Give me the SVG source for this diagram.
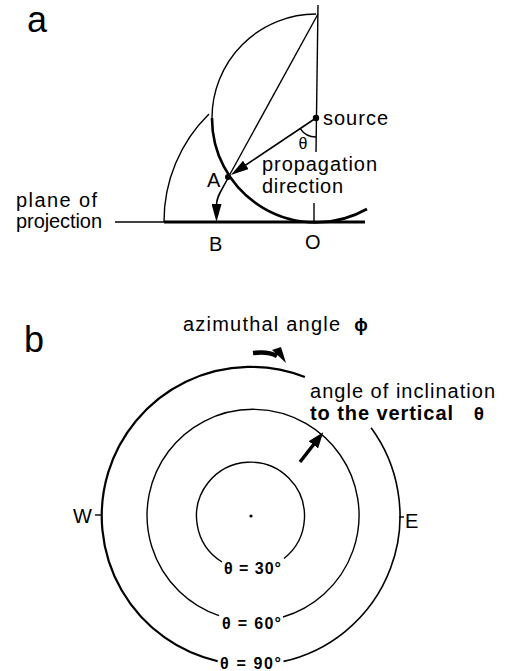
<svg xmlns="http://www.w3.org/2000/svg" width="510" height="671" viewBox="0 0 510 671">
<style>
text{font-family:"Liberation Sans",Arial,sans-serif;fill:#000}
.lbl{font-size:20px}
.big{font-size:36px}
.sm{font-size:16px;font-weight:bold}
.thin{fill:none;stroke:#000;stroke-width:1.4}
.thick{fill:none;stroke:#000;stroke-width:2.6}
</style>
<defs>
<marker id="ah" viewBox="0 0 18 10" refX="1" refY="5" markerWidth="18" markerHeight="10" markerUnits="userSpaceOnUse" orient="auto">
<path d="M0,0 L18,5 L0,10 Z" fill="#000"/>
</marker>
<marker id="ahb" viewBox="0 0 16 12" refX="1" refY="6" markerWidth="16" markerHeight="12" markerUnits="userSpaceOnUse" orient="auto">
<path d="M0,0 L16,6 L0,12 Z" fill="#000"/>
</marker>
</defs>

<!-- Part a -->
<g id="label-a"><text class="big" x="27" y="32">a</text></g>
<g id="construction-a">
  <line class="thin" x1="318" y1="5" x2="316" y2="152"/>
  <path class="thin" d="M316,14 A104,104 0 0 0 212,118"/>
  <path class="thick" d="M212,118 A104,104 0 0 0 367,209"/>
  <path class="thin" d="M164,222 A150,150 0 0 1 209,114"/>
  <line class="thin" x1="318" y1="14" x2="229" y2="176"/>
  <line class="thin" x1="115" y1="222" x2="164" y2="222"/>
  <line x1="164" y1="222" x2="365" y2="222" stroke="#000" stroke-width="3"/>
  <line class="thin" x1="314" y1="203" x2="314" y2="222"/>
  <path class="thin" d="M300.2,128.6 A19,19 0 0 0 316,137"/>
</g>
<g id="source"><circle cx="316" cy="118" r="3.2"/><text class="lbl" x="323" y="125" textLength="65" lengthAdjust="spacing">source</text></g>
<g id="pointA"><circle cx="228" cy="177" r="3"/><text class="lbl" x="207" y="187">A</text></g>
<g id="pointB"><text class="lbl" x="209" y="251">B</text></g>
<g id="pointO"><text class="lbl" x="305" y="249">O</text></g>
<g id="plane-label">
  <text class="lbl" x="16" y="207" textLength="81" lengthAdjust="spacing">plane of</text>
  <text class="lbl" x="16" y="228" textLength="86" lengthAdjust="spacing">projection</text>
</g>
<g id="propagation-label">
  <text class="lbl" x="262" y="171" textLength="115" lengthAdjust="spacing">propagation</text>
  <text class="lbl" x="262" y="193" textLength="81" lengthAdjust="spacing">direction</text>
</g>
<g id="theta-a"><text x="303" y="149" font-size="16" text-anchor="middle">θ</text></g>
<g id="connectors-a">
  <line x1="316" y1="118" x2="245" y2="165.5" stroke="#000" stroke-width="1.6" marker-end="url(#ah)"/>
  <path d="M228,178 C222,190 216.5,196 216.5,205" fill="none" stroke="#000" stroke-width="1.6" marker-end="url(#ah)"/>
</g>

<!-- Part b -->
<g id="label-b"><text class="big" x="24" y="352">b</text></g>
<g id="azimuth-label">
  <text class="lbl" x="183" y="331" textLength="157" lengthAdjust="spacing">azimuthal angle</text>
  <text x="361" y="331" font-size="18" font-weight="bold" text-anchor="middle">ϕ</text>
</g>
<g id="circles">
  <path d="M371.1,427.8 A149,149 0 0 1 283.5,661.4" fill="none" stroke="#000" stroke-width="1.6"/>
  <path d="M217.7,661.2 A149,149 0 1 1 304.9,377.1" fill="none" stroke="#000" stroke-width="2.2"/>
  <path class="thin" d="M219,615.7 A106,106 0 1 1 283,617"/>
  <path class="thin" d="M222,562 A54,54 0 1 1 284,558.5"/>
  <circle cx="251" cy="516" r="1.6"/>
  <line class="thin" x1="95" y1="515" x2="102" y2="515"/>
  <line class="thin" x1="399" y1="517" x2="404" y2="517"/>
</g>
<g id="compass">
  <text class="lbl" x="73" y="523">W</text>
  <text class="lbl" x="405" y="528">E</text>
</g>
<g id="theta-labels">
  <text class="sm" x="224" y="574" textLength="57" lengthAdjust="spacing">θ = 30°</text>
  <text class="sm" x="222" y="629" textLength="59" lengthAdjust="spacing">θ = 60°</text>
  <text class="sm" x="220" y="669" textLength="61" lengthAdjust="spacing">θ = 90°</text>
</g>
<g id="inclination-label">
  <text class="lbl" x="310" y="398" textLength="185" lengthAdjust="spacing">angle of inclination</text>
  <text class="lbl" x="310" y="420" font-weight="bold" textLength="143" lengthAdjust="spacing">to the vertical</text>
  <text x="479" y="420" font-size="19" font-weight="bold" text-anchor="middle">θ</text>
</g>
<g id="connectors-b">
  <path d="M253,353 Q268,351 277,356" fill="none" stroke="#000" stroke-width="4.5"/>
  <path d="M272,350 L286,363 L281,347 Z" fill="#000"/>
  <line x1="300" y1="462" x2="314" y2="444" stroke="#000" stroke-width="3.5" marker-end="url(#ahb)"/>
</g>
</svg>
